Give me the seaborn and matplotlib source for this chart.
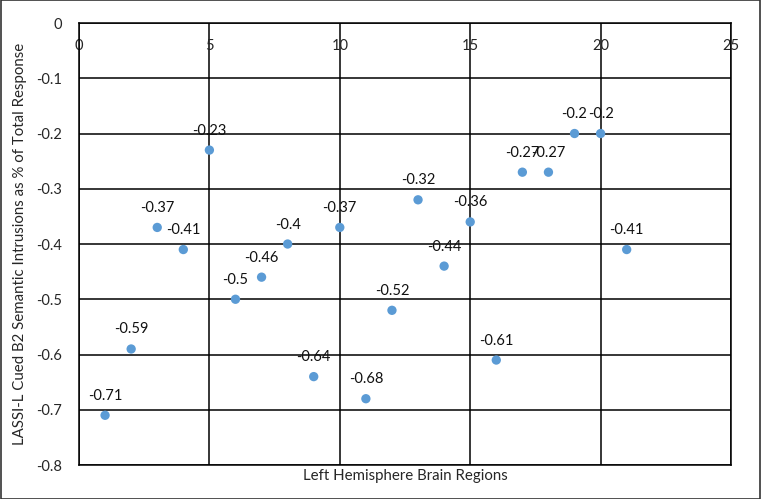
import seaborn as sns
import numpy as np
import pandas as pd
import matplotlib.pyplot as plt

regions = list(range(1, 22))
intrusions = [-0.71, -0.59, -0.37, -0.41, -0.23, -0.5, -0.46, -0.4, -0.64, -0.37,
              -0.68, -0.52, -0.32, -0.44, -0.36, -0.61, -0.27, -0.27, -0.2, -0.2, -0.41]
x_ticks = [0, 5, 10, 15, 20, 25]
y_ticks = [0, -0.1, -0.2, -0.3, -0.4, -0.5, -0.6, -0.7, -0.8]

sns.set_style('white')
plt.rcParams['font.family'] = ['Lato', 'DejaVu Sans']

df = pd.DataFrame({'region': regions, 'value': intrusions})

f = plt.figure(figsize=(7.61, 4.99), dpi=100)
ax = f.add_axes([0.1038, 0.0681, 0.8568, 0.8858])
sns.scatterplot(data=df, x='region', y='value', ax=ax, color='#5B9BD5',
                s=45, edgecolor='none', zorder=3)

for xv, yv in zip(regions, intrusions):
    ax.annotate(f'{yv:g}', (xv, yv), xytext=(0, 9), textcoords='offset points',
                ha='center', va='bottom', fontsize=10.5, color='#111111')

ax.set_xlim(0, 25)
ax.set_ylim(-0.8, 0)
ax.set_xticks(x_ticks)
ax.set_yticks(y_ticks)
ax.set_yticklabels([f'{v:g}' for v in y_ticks])
ax.grid(True, color='black', lw=1.1)
for s in ax.spines.values():
    s.set_color('black')
    s.set_linewidth(1.1)
ax.tick_params(axis='x', bottom=False, top=False, labelbottom=False, labeltop=True,
               pad=-25, labelsize=10.5)
ax.tick_params(axis='y', left=False, pad=9, labelsize=10.5)
ax.set_xlabel('Left Hemisphere Brain Regions', fontsize=10.8, labelpad=3)
ax.set_ylabel('LASSI-L Cued B2 Semantic Intrusions as % of Total Response', fontsize=10.8, labelpad=6)

f.patches.append(plt.Rectangle((0.001, 0.001), 0.998, 0.998, transform=f.transFigure,
                               fill=False, ec='#333333', lw=1.2))
plt.savefig('out.png', dpi=100)
